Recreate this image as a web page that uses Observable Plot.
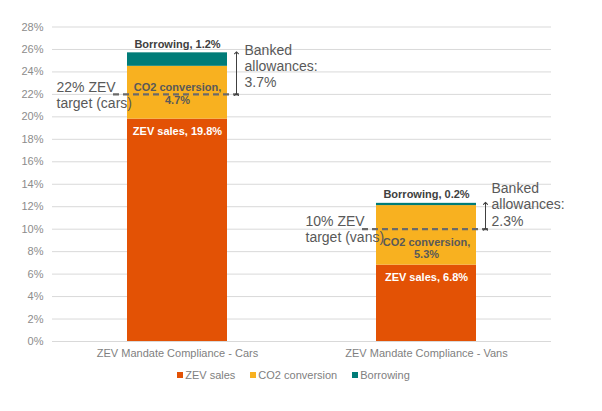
<!DOCTYPE html>
<html>
<head>
<meta charset="utf-8">
<script src="https://cdn.jsdelivr.net/npm/d3@7"></script>
<script src="https://cdn.jsdelivr.net/npm/@observablehq/plot@0.6"></script>
<style>
  body { margin: 0; background: #fff; font-family: "Liberation Sans", Arial, sans-serif; }
  #chart { width: 602px; }
  .lg-swatches-wrap { justify-content: center; min-height: 20px; font-size: 11px; color: #808080; font-family: "Liberation Sans", Arial, sans-serif; }
  .lg-swatch { margin-right: 15px; }
  .lg-swatch > svg { margin-right: 2px; }
  .target-line { stroke-width: 2.2px; }
</style>
</head>
<body>
<div id="chart"></div>
<script>
// Compliance routes by vehicle type (% of sales)
const categories = ["ZEV Mandate Compliance - Cars", "ZEV Mandate Compliance - Vans"];
const components = ["ZEV sales", "CO2 conversion", "Borrowing"];
const zevSales = [19.8, 6.8];
const co2Conversion = [4.7, 5.3];
const borrowing = [1.2, 0.2];
const targets = [22, 10];
const targetNames = ["cars", "vans"];
const colors = ["#E35205", "#F8B120", "#007C78"];
const yTicks = [0, 2, 4, 6, 8, 10, 12, 14, 16, 18, 20, 22, 24, 26, 28];

const series = [zevSales, co2Conversion, borrowing];
const rows = categories.flatMap((category, i) =>
  components.map((component, j) => ({category, component, value: series[j][i]}))
);

const summary = categories.map((category, i) => {
  const total = zevSales[i] + co2Conversion[i] + borrowing[i];
  return {
    category,
    zev: zevSales[i],
    co2Mid: zevSales[i] + co2Conversion[i] / 2,
    total,
    target: targets[i],
    mid: (targets[i] + total) / 2,
    zevLabel: `ZEV sales, ${zevSales[i].toFixed(1)}%`,
    co2Label: `CO2 conversion,\n${co2Conversion[i].toFixed(1)}%`,
    borrowLabel: `Borrowing, ${borrowing[i].toFixed(1)}%`,
    targetLabel: `${targets[i]}% ZEV\ntarget (${targetNames[i]})`,
    bankedLabel: `Banked\nallowances:\n${(total - targets[i]).toFixed(1)}%`
  };
});
const cars = summary.slice(0, 1);
const vans = summary.slice(1, 2);

const font = "Liberation Sans, Arial, sans-serif";
const labelStyle = {fontSize: 11, fontWeight: "bold", lineAnchor: "middle", lineHeight: 1.15};
const noteStyle = {fontSize: 14, fill: "#595959", lineHeight: 1.15, lineAnchor: "middle"};

const chart = Plot.plot({
  width: 602,
  height: 365,
  marginTop: 26.5,
  marginBottom: 24,
  marginLeft: 52,
  marginRight: 51,
  style: {fontFamily: font, background: "#fff"},
  x: {domain: categories, paddingInner: 0.6, paddingOuter: 0.3, label: null},
  y: {domain: [0, 28], label: null},
  color: {domain: components, range: colors},
  marks: [
    Plot.gridY(yTicks, {stroke: "#d9d9d9", strokeOpacity: 1}),
    Plot.axisY({ticks: yTicks, tickFormat: d => `${d}%`, tickSize: 0, tickPadding: 9, fontSize: 11, fill: "#8c8c8c", label: null}),
    Plot.axisX({tickSize: 0, tickPadding: 8, fontSize: 11, fill: "#7f7f7f", label: null}),
    Plot.barY(rows, {x: "category", y: "value", fill: "component", order: components}),
    // target lines
    Plot.tickY(summary, {x: "category", y: "target", stroke: "#6a6a6a", strokeWidth: 2.2, strokeDasharray: "6,4", insetLeft: -14, insetRight: -16, className: "target-line"}),
    // banked allowance spans
    Plot.link(summary, {x1: "category", x2: "category", y1: "target", y2: "total", dx: 59, stroke: "#404040", strokeWidth: 1, markerStart: "arrow", markerEnd: "arrow"}),
    // segment labels
    Plot.text(summary, {x: "category", y: "zev", text: "zevLabel", dy: 12, fill: "#fff", ...labelStyle}),
    Plot.text(cars, {x: "category", y: "co2Mid", text: "co2Label", dy: 1, fill: "#595959", ...labelStyle}),
    Plot.text(vans, {x: "category", y: "co2Mid", text: "co2Label", dy: 12.5, fill: "#595959", ...labelStyle}),
    Plot.text(summary, {x: "category", y: "total", text: "borrowLabel", dy: -9, fill: "#404040", ...labelStyle}),
    // annotations
    Plot.text(summary, {x: "category", y: "target", text: "targetLabel", dx: -121, textAnchor: "start", ...noteStyle}),
    Plot.text(cars, {x: "category", y: "mid", text: "bankedLabel", dx: 67, dy: -8, textAnchor: "start", ...noteStyle}),
    Plot.text(vans, {x: "category", y: "mid", text: "bankedLabel", dx: 65, dy: -12, textAnchor: "start", ...noteStyle})
  ]
});

const legend = Plot.legend({
  color: {domain: components, range: colors},
  className: "lg",
  swatchSize: 6
});

const root = document.getElementById("chart");
root.appendChild(chart);
root.appendChild(legend);
</script>
</body>
</html>
